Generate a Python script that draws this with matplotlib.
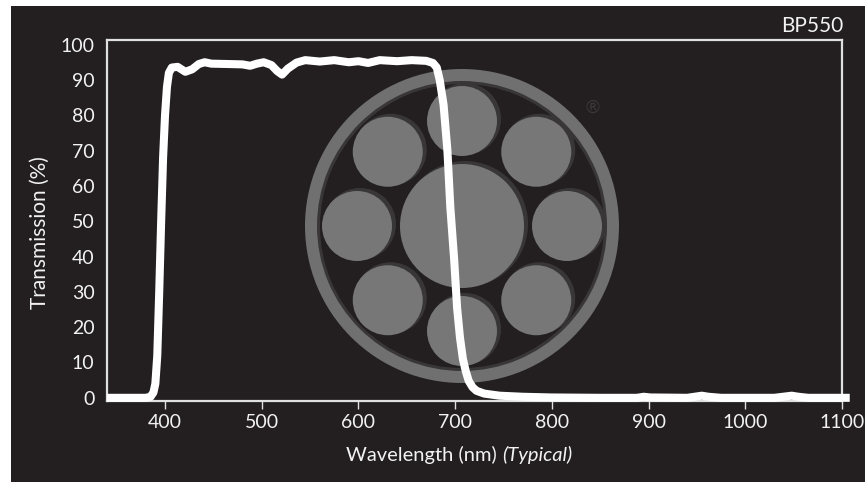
import matplotlib
matplotlib.use("Agg")
import matplotlib.pyplot as plt
from matplotlib.patches import Circle, Rectangle, Wedge
import matplotlib.transforms as mtransforms
import numpy as np

# ---------------- data ----------------
wavelength = [340, 380, 385, 388, 390, 392, 394, 396, 398, 400, 402, 404, 407,
              413, 421, 428, 435, 441, 448, 465, 480, 488, 495, 502, 510, 516,
              521, 527, 536, 545, 560, 575, 590, 600, 610, 622, 640, 655, 670,
              677, 681, 684, 688, 692, 695, 699, 702, 705, 708, 711, 714, 718,
              722, 730, 746, 770, 800, 850, 888, 895, 902, 940, 950, 955, 962,
              975, 1030, 1042, 1048, 1055, 1065, 1108]
transmission = [0, 0, 0.3, 1.5, 4, 12, 30, 50, 68, 80, 88, 92, 93.5,
                93.7, 92.3, 93.0, 94.5, 95.0, 94.6, 94.5, 94.4, 94.0, 94.6, 95.0, 94.2, 92.5,
                91.5, 93.2, 94.9, 95.6, 95.2, 95.6, 95.0, 95.3, 94.8, 95.6, 95.3, 95.6, 95.4,
                94.8, 93.5, 90, 83, 70, 54, 39, 25.5, 17, 11, 7.5, 4.8, 3,
                2, 1.2, 0.6, 0.3, 0.1, 0, 0, 0.3, 0.1, 0, 0.4, 0.6, 0.3,
                0, 0, 0.4, 0.6, 0.3, 0, 0]
x_ticks = [400, 500, 600, 700, 800, 900, 1000, 1100]
y_ticks = [0, 10, 20, 30, 40, 50, 60, 70, 80, 90, 100]
title_text = "BP550"
xlabel_main = "Wavelength (nm)"
xlabel_note = "(Typical)"
ylabel_text = "Transmission (%)"

# ---------------- style ----------------
W, H = 865, 482
BG = "#231f20"
FG = "#f2f2f2"
SPINE = "#e0e0e0"
FONT = ["Lato", "DejaVu Sans"]
plt.rcParams["font.family"] = FONT

fig = plt.figure(figsize=(W / 100, H / 100), dpi=100, facecolor="white")
fig.add_artist(Rectangle((11 / W, 0), 1 - 11 / W, (H - 6) / H,
                         transform=fig.transFigure, facecolor=BG,
                         edgecolor="none", zorder=-3))

# pixel transform (origin top-left)
px = mtransforms.Affine2D().scale(1, -1).translate(0, H)

# ---------------- watermark logo ----------------
cx, cy = 462, 226
ring_col = "#707070"
circ_col = "#777777"
shad_col = "#393637"
fig.add_artist(Wedge((cx, cy), 157, 0, 360, width=13, transform=px,
                     facecolor=ring_col, edgecolor="none", zorder=-2))
fig.add_artist(Wedge((cx, cy), 145, 0, 360, width=3, transform=px,
                     facecolor=shad_col, edgecolor="none", zorder=-2))
# centre circle
fig.add_artist(Circle((cx + 3, cy - 2), 63, transform=px, facecolor=shad_col,
                      edgecolor="none", zorder=-2))
fig.add_artist(Circle((cx, cy), 62, transform=px, facecolor=circ_col,
                      edgecolor="none", zorder=-2))
for k in range(8):
    ang = np.deg2rad(90 - 45 * k)
    sx = cx + 105 * np.cos(ang)
    sy = cy - 105 * np.sin(ang)
    fig.add_artist(Circle((sx + 3, sy - 2), 36, transform=px, facecolor=shad_col,
                          edgecolor="none", zorder=-2))
    fig.add_artist(Circle((sx, sy), 35, transform=px, facecolor=circ_col,
                          edgecolor="none", zorder=-2))
fig.text(593 / W, 1 - 108 / H, "\u00ae", color="#3a3738", fontsize=13,
         ha="center", va="center", family=["DejaVu Sans"], zorder=-2)

# ---------------- axes ----------------
ax = fig.add_axes([107 / W, (H - 401) / H, (842 - 107) / W, (401 - 40) / H])
ax.set_facecolor("none")
ax.plot(wavelength, transmission, color="white", lw=5.8,
        solid_joinstyle="round", solid_capstyle="butt", clip_on=False, zorder=3)
ax.set_xlim(340, 1100)
ax.set_ylim(-0.9, 101.3)
ax.set_xticks(x_ticks)
ax.set_yticks(y_ticks)
for s in ax.spines.values():
    s.set_color(SPINE)
    s.set_linewidth(1.6)
ax.tick_params(axis="x", direction="out", length=6, width=1, color=SPINE,
               labelcolor=FG, labelsize=14, pad=3)
ax.tick_params(axis="y", length=0, labelcolor=FG, labelsize=14, pad=9)

# title
fig.text(843 / W, 1 - 26 / H, title_text, color=FG, fontsize=15,
         ha="right", va="center")

# y label
fig.text(40 / W, 1 - 233 / H, ylabel_text, color=FG, fontsize=15,
         rotation=90, ha="center", va="center")

# x label with italic note
r = fig.canvas.get_renderer()
t1 = fig.text(0, 1 - 455 / H, xlabel_main, color=FG, fontsize=14.5,
              ha="left", va="center")
t2 = fig.text(0, 1 - 455 / H, xlabel_note, color=FG, fontsize=14.5,
              style="italic", ha="left", va="center")
w1 = t1.get_window_extent(r).width
w2 = t2.get_window_extent(r).width
gap = 5
total = w1 + gap + w2
x0 = 459 - total / 2
t1.set_x(x0 / W)
t2.set_x((x0 + w1 + gap) / W)

fig.savefig("out.png", dpi=100, facecolor="white")
